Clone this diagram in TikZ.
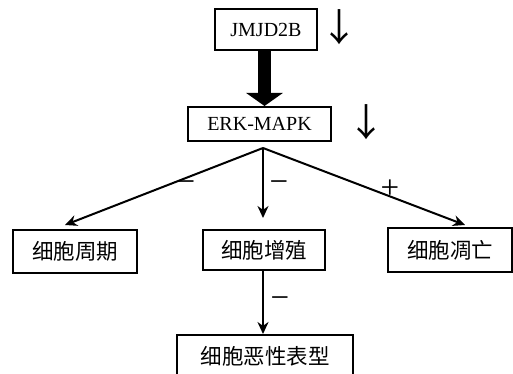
\documentclass[tikz,border=0pt]{standalone}
\usepackage{fontspec}
\setmainfont{Liberation Serif}
\newfontfamily\cjk{Noto Sans CJK SC}
\usetikzlibrary{arrows.meta}
\begin{document}
\begin{tikzpicture}[x=1pt,y=-1pt,
  box/.style={draw,line width=2pt,inner sep=0pt,font=\fontsize{20}{22}\selectfont},
  cbox/.style={box,font=\cjk\fontsize{21.5}{23}\selectfont},
  conn/.style={line width=2pt,-{Stealth[length=12pt,width=11pt]}},
  sign/.style={font=\fontsize{33}{33}\selectfont,inner sep=0pt},
  down/.style={font=\cjk\fontsize{38}{38}\selectfont,inner sep=0pt}]
\useasboundingbox (0,0) rectangle (513,374);
\node[box,minimum width=102pt,minimum height=41pt] (jm) at (266,30) {JMJD2B};
\node[box,minimum width=143pt,minimum height=34pt] (erk) at (259.5,124) {ERK-MAPK};
\node[cbox,minimum width=124pt,minimum height=43pt] (cc) at (75,251.5) {细胞周期};
\node[cbox,minimum width=122pt,minimum height=40pt] (cp) at (264,250) {细胞增殖};
\node[cbox,minimum width=124pt,minimum height=44pt] (ca) at (450,250) {细胞凋亡};
\node[cbox,minimum width=176pt,minimum height=42pt] (cm) at (265,356) {细胞恶性表型};
\node[down] (d1) at (339,27) {↓};
\node[down] (d2) at (366,122) {↓};
\coordinate (o) at (263,148);
\coordinate (t1) at (65,225);
\coordinate (t2) at (263,218);
\coordinate (t3) at (465,225);
\draw[line width=13pt,-{Triangle[length=13pt,width=36pt]}] (jm.south -| 264.5,0) -- (erk.north -| 264.5,0);
\draw[conn] (o) -- (t1);
\draw[conn] (o) -- (t2);
\draw[conn] (o) -- (t3);
\coordinate (b1) at (263,270);
\draw[conn] (b1) -- (cm.north -| b1);
\node[sign] (s1) at (186,187) {−};
\node[sign] (s2) at (279,187) {−};
\node[sign] (s3) at (390,189) {+};
\node[sign] (s4) at (280,303) {−};
\end{tikzpicture}
\end{document}
